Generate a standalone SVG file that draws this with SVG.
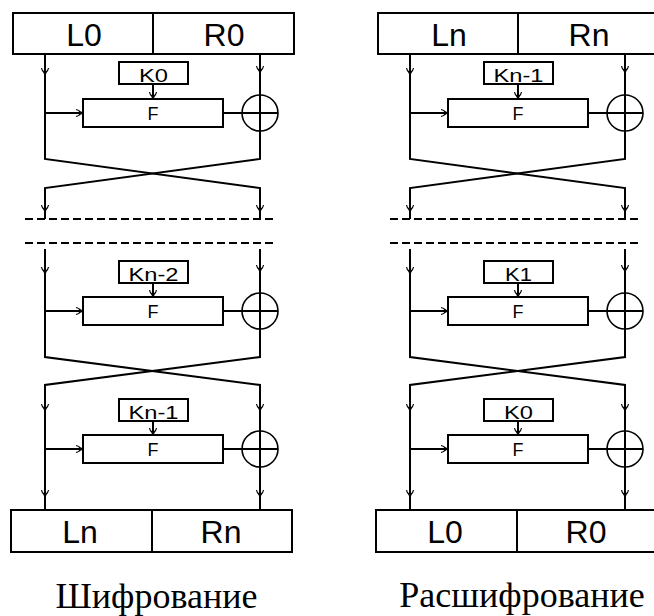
<svg xmlns="http://www.w3.org/2000/svg" xmlns:xlink="http://www.w3.org/1999/xlink" width="654" height="616" viewBox="0 0 654 616">
<style>
.box{fill:#fff;stroke:#000;stroke-width:2}
.ln{fill:none;stroke:#000;stroke-width:2}
.xor{fill:none;stroke:#000;stroke-width:1.6}
.dash{fill:none;stroke:#000;stroke-width:2;stroke-dasharray:8 4}
.big{font-family:"Liberation Sans",Arial,sans-serif;font-size:32px;text-anchor:middle;fill:#000}
.sm{font-family:"Liberation Sans",Arial,sans-serif;font-size:18px;text-anchor:middle;fill:#000}
.cap{font-family:"Liberation Serif","Times New Roman",serif;font-size:36px;text-anchor:middle;fill:#000}
</style>
<defs>
<g id="ad">
<path d="M-2.5,-4 L2.5,-4 L0,1 Z" fill="#000"/>
<path d="M-3.5,-7 Q-3,-4 -1,-3 M3.5,-7 Q3,-4 1,-3" fill="none" stroke="#000" stroke-width="1.2"/>
</g>
<g id="ar"><use xlink:href="#ad" transform="rotate(-90)"/></g>
</defs>
<rect width="654" height="616" fill="#fff"/>

<!-- Encryption (left) -->
<g id="enc">
<g id="enc-connectors">
<path class="ln" d="M45,54 V159 L260,188 V219"/>
<path class="ln" d="M260,54 V159 L45,188 V219"/>
<path class="ln" d="M45,249 V357 L260,385 V510"/>
<path class="ln" d="M260,249 V357 L45,385 V510"/>
<path class="ln" d="M153,84 V99 M153,283 V297 M153,421 V435"/>
<path class="ln" d="M45,113 H83 M45,311 H83 M45,449 H83"/>
<path class="ln" d="M223,113 H278 M223,311 H278 M223,449 H278"/>
<path class="dash" d="M25,219 H277 M25,243 H277"/>
<use xlink:href="#ad" x="45" y="75"/><use xlink:href="#ad" x="260" y="73"/>
<use xlink:href="#ad" x="153" y="99"/><use xlink:href="#ar" transform="translate(83,113)"/>
<use xlink:href="#ad" x="45" y="212"/><use xlink:href="#ad" x="260" y="212"/>
<use xlink:href="#ad" x="45" y="274"/><use xlink:href="#ad" x="260" y="272"/>
<use xlink:href="#ad" x="153" y="297"/><use xlink:href="#ar" transform="translate(83,311)"/>
<use xlink:href="#ad" x="45" y="411"/><use xlink:href="#ad" x="260" y="411"/>
<use xlink:href="#ad" x="153" y="435"/><use xlink:href="#ar" transform="translate(83,449)"/>
<use xlink:href="#ad" x="45" y="497"/><use xlink:href="#ad" x="260" y="497"/>
</g>
<g id="enc-top"><rect class="box" x="13" y="13" width="281" height="41"/><path class="ln" d="M153,13 V54"/><text class="big" x="84" y="46">L0</text><text class="big" x="224" y="46">R0</text></g>
<g id="enc-k1"><rect class="box" x="119" y="62" width="69" height="22"/><text class="sm" x="153.5" y="82" textLength="29" lengthAdjust="spacingAndGlyphs">K0</text></g>
<g id="enc-f1"><rect class="box" x="83" y="99" width="140" height="28"/><text class="sm" x="153" y="120">F</text></g>
<g id="enc-x1"><circle class="xor" cx="260" cy="113" r="18"/></g>
<g id="enc-k2"><rect class="box" x="119" y="261" width="69" height="22"/><text class="sm" x="153.5" y="281" textLength="50" lengthAdjust="spacingAndGlyphs">Kn-2</text></g>
<g id="enc-f2"><rect class="box" x="83" y="297" width="140" height="28"/><text class="sm" x="153" y="318">F</text></g>
<g id="enc-x2"><circle class="xor" cx="260" cy="311" r="18"/></g>
<g id="enc-k3"><rect class="box" x="119" y="399" width="69" height="22"/><text class="sm" x="153.5" y="419" textLength="50" lengthAdjust="spacingAndGlyphs">Kn-1</text></g>
<g id="enc-f3"><rect class="box" x="83" y="435" width="140" height="28"/><text class="sm" x="153" y="456">F</text></g>
<g id="enc-x3"><circle class="xor" cx="260" cy="449" r="18"/></g>
<g id="enc-bottom"><rect class="box" x="11" y="510" width="281" height="42"/><path class="ln" d="M152,510 V552"/><text class="big" x="80" y="543">Ln</text><text class="big" x="221" y="543">Rn</text></g>
<text class="cap" x="156.5" y="608">Шифрование</text>
</g>

<!-- Decryption (right) -->
<g id="dec" transform="translate(365,0)">
<g id="dec-connectors">
<path class="ln" d="M45,54 V159 L260,188 V219"/>
<path class="ln" d="M260,54 V159 L45,188 V219"/>
<path class="ln" d="M45,249 V357 L260,385 V510"/>
<path class="ln" d="M260,249 V357 L45,385 V510"/>
<path class="ln" d="M153,84 V99 M153,283 V297 M153,421 V435"/>
<path class="ln" d="M45,113 H83 M45,311 H83 M45,449 H83"/>
<path class="ln" d="M223,113 H278 M223,311 H278 M223,449 H278"/>
<path class="dash" d="M25,219 H277 M25,243 H277"/>
<use xlink:href="#ad" x="45" y="75"/><use xlink:href="#ad" x="260" y="73"/>
<use xlink:href="#ad" x="153" y="99"/><use xlink:href="#ar" transform="translate(83,113)"/>
<use xlink:href="#ad" x="45" y="212"/><use xlink:href="#ad" x="260" y="212"/>
<use xlink:href="#ad" x="45" y="274"/><use xlink:href="#ad" x="260" y="272"/>
<use xlink:href="#ad" x="153" y="297"/><use xlink:href="#ar" transform="translate(83,311)"/>
<use xlink:href="#ad" x="45" y="411"/><use xlink:href="#ad" x="260" y="411"/>
<use xlink:href="#ad" x="153" y="435"/><use xlink:href="#ar" transform="translate(83,449)"/>
<use xlink:href="#ad" x="45" y="497"/><use xlink:href="#ad" x="260" y="497"/>
</g>
<g id="dec-top"><rect class="box" x="13" y="13" width="281" height="41"/><path class="ln" d="M153,13 V54"/><text class="big" x="84" y="46">Ln</text><text class="big" x="224" y="46">Rn</text></g>
<g id="dec-k1"><rect class="box" x="119" y="62" width="69" height="22"/><text class="sm" x="153.5" y="82" textLength="50" lengthAdjust="spacingAndGlyphs">Kn-1</text></g>
<g id="dec-f1"><rect class="box" x="83" y="99" width="140" height="28"/><text class="sm" x="153" y="120">F</text></g>
<g id="dec-x1"><circle class="xor" cx="260" cy="113" r="18"/></g>
<g id="dec-k2"><rect class="box" x="119" y="261" width="69" height="22"/><text class="sm" x="153.5" y="281" textLength="27" lengthAdjust="spacingAndGlyphs">K1</text></g>
<g id="dec-f2"><rect class="box" x="83" y="297" width="140" height="28"/><text class="sm" x="153" y="318">F</text></g>
<g id="dec-x2"><circle class="xor" cx="260" cy="311" r="18"/></g>
<g id="dec-k3"><rect class="box" x="119" y="399" width="69" height="22"/><text class="sm" x="153.5" y="419" textLength="29" lengthAdjust="spacingAndGlyphs">K0</text></g>
<g id="dec-f3"><rect class="box" x="83" y="435" width="140" height="28"/><text class="sm" x="153" y="456">F</text></g>
<g id="dec-x3"><circle class="xor" cx="260" cy="449" r="18"/></g>
<g id="dec-bottom"><rect class="box" x="11" y="510" width="281" height="42"/><path class="ln" d="M152,510 V552"/><text class="big" x="80" y="543">L0</text><text class="big" x="221" y="543">R0</text></g>
<text class="cap" x="157" y="607">Расшифрование</text>
</g>
</svg>
